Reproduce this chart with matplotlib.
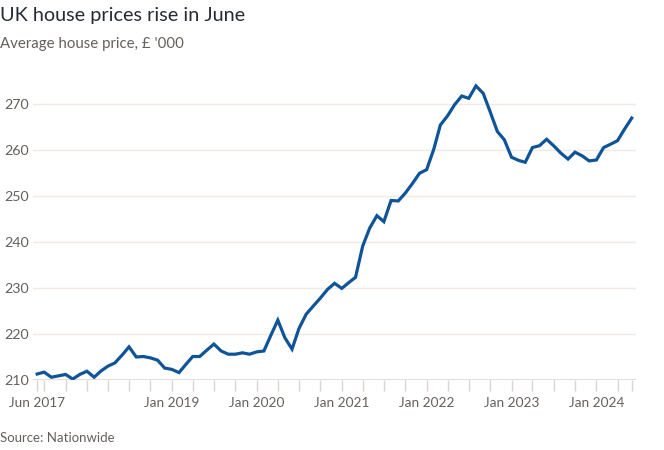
import numpy as np
import pandas as pd
import matplotlib
matplotlib.use("Agg")
import matplotlib.pyplot as plt

plt.rcParams['font.family'] = ['Lato', 'DejaVu Sans']

# Average house price, £'000, monthly Jun 2017 - Jun 2024
prices = [
    211.3, 211.7, 210.6, 210.9, 211.2, 210.2, 211.2,                          # 2017 Jun-Dec
    211.9, 210.6, 211.9, 213.0, 213.7, 215.4, 217.2, 215.0, 215.1, 214.8, 214.3, 212.6,  # 2018
    212.3, 211.6, 213.3, 215.1, 215.1, 216.5, 217.8, 216.3, 215.6, 215.6, 215.9, 215.6,  # 2019
    216.1, 216.3, 219.6, 223.0, 219.2, 216.7, 221.2, 224.3, 226.1, 227.8, 229.7, 231.0,  # 2020
    229.9, 231.2, 232.3, 239.1, 243.0, 245.7, 244.4, 249.0, 248.9, 250.6, 252.7, 254.9,  # 2021
    255.7, 260.2, 265.4, 267.4, 269.8, 271.7, 271.2, 273.9, 272.3, 268.3, 264.0, 262.2,  # 2022
    258.4, 257.7, 257.3, 260.5, 260.9, 262.3, 260.9, 259.3, 258.0, 259.5, 258.7, 257.6,  # 2023
    257.8, 260.5, 261.2, 262.0, 264.5, 266.9,                                  # 2024 Jan-Jun
]
months = pd.date_range("2017-06-01", periods=len(prices), freq="MS")

y_ticks = [210, 220, 230, 240, 250, 260, 270]
labelled = {"2017-06": "Jun 2017", "2019-01": "Jan 2019", "2020-01": "Jan 2020",
            "2021-01": "Jan 2021", "2022-01": "Jan 2022", "2023-01": "Jan 2023",
            "2024-01": "Jan 2024"}

# quarterly ticks plus the two ends
tick_dates = [months[0]] + [m for m in months[1:-1] if m.month in (1, 4, 7, 10)] + [months[-1]]
tick_labels = [labelled.get(d.strftime("%Y-%m"), "") for d in tick_dates]

blue = "#0f5499"
grid = "#f0e9e4"
base = "#dcd5cf"
muted = "#66605c"

fig = plt.figure(figsize=(6.64, 4.5), dpi=100)
ax = fig.add_axes([0.0497, 0.1556, 0.908, 0.675])

ax.plot(months, prices, color=blue, lw=2.3, solid_joinstyle="miter", zorder=3)

ax.set_ylim(210, 276)
ax.set_xlim(months[0] - pd.Timedelta(days=18), months[-1] + pd.Timedelta(days=18))
ax.set_yticks(y_ticks)
for v in y_ticks[1:]:
    ax.axhline(v, color=grid, lw=1, zorder=1)
ax.axhline(210, color=base, lw=1.2, zorder=2)

ax.set_xticks(tick_dates)
ax.set_xticklabels(tick_labels)
ax.tick_params(axis="x", length=8, width=1, color=base, pad=4,
               labelsize=9.8, labelcolor=muted)
ax.tick_params(axis="y", length=0, pad=3, labelsize=10.3, labelcolor=muted)

for s in ax.spines.values():
    s.set_visible(False)

fig.text(0.0, 0.965, "UK house prices rise in June", fontsize=14.3,
         color="#262a33", va="center", ha="left")
fig.text(0.0, 0.902, "Average house price, £ '000", fontsize=10.8,
         color=muted, va="center", ha="left")
fig.text(0.0, 0.027, "Source: Nationwide", fontsize=9.5, color=muted,
         va="center", ha="left")

fig.savefig("out.png", dpi=100, facecolor="white")
